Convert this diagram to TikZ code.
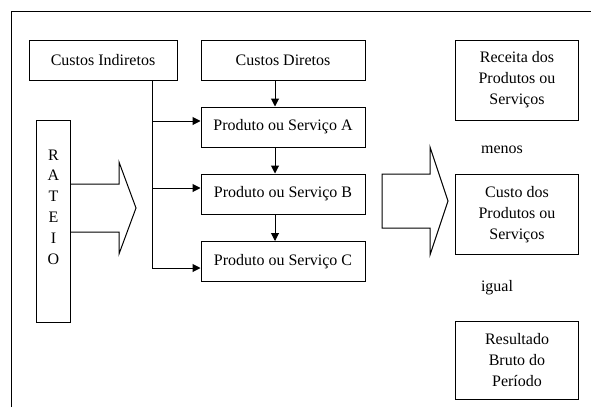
\documentclass[tikz,border=0pt]{standalone}
\usepackage{fontspec}
\setmainfont{Liberation Serif}
\usetikzlibrary{arrows.meta}

\begin{document}
\begin{tikzpicture}[x=0.75pt,y=-0.75pt,line width=0.75pt,
    caixa/.style={draw, inner sep=0pt, align=center,
      font=\fontsize{12}{15.75}\selectfont},
    texto/.style={inner sep=0pt, align=center,
      font=\fontsize{12}{15.6}\selectfont},
    seta/.style={-{Triangle[length=6pt,width=6pt]}}]
        \useasboundingbox (0,0) rectangle (591,407);

        % Moldura
        \draw (11,407) -- (11,11) -- (591,11);

        % Custos
        \node[caixa, minimum width=111pt, minimum height=30pt] (ci) at (103,60) {Custos Indiretos};
        \node[caixa, minimum width=123pt, minimum height=30pt] (cd) at (283,60) {Custos Diretos};

        % Produtos
        \node[caixa, minimum width=123pt, minimum height=30pt] (pa) at (283,127) {Produto ou Serviço A};
        \node[caixa, minimum width=123pt, minimum height=30pt] (pb) at (283,194) {Produto ou Serviço B};
        \node[caixa, minimum width=123pt, minimum height=30pt] (pc) at (283,261.5) {Produto ou Serviço C};

        % Rateio
        \node[caixa, minimum width=25pt, minimum height=151.5pt] (rateio) at (53.5,221) {};
        \node[texto] (letras) at (53.5,207) {R\\A\\T\\E\\I\\O};

        % Resultado
        \node[caixa, minimum width=92pt, minimum height=60pt] (receita) at (517,80) {Receita dos\\Produtos ou\\Serviços};
        \node[caixa, minimum width=92pt, minimum height=60pt] (custo) at (517,214.5) {Custo dos\\Produtos ou\\Serviços};
        \node[caixa, minimum width=92pt, minimum height=58pt] (resultado) at (517,360.5) {Resultado\\Bruto do\\Período};
        \node[texto] (menos) at (502,150) {menos};
        \node[texto] (igual) at (497,288) {igual};

        % Setas
        \coordinate (tronco) at (152,268);
        \draw (ci.south -| tronco) -- (tronco);
        \draw[seta] (tronco) -- (tronco -| pc.west);
        \draw[seta] ([yshift=4.5pt]pa.west -| tronco) -- ([yshift=4.5pt]pa.west);
        \draw[seta] ([yshift=4.5pt]pb.west -| tronco) -- ([yshift=4.5pt]pb.west);
        \draw[seta] ([xshift=-6pt]cd.south) -- ([xshift=-6pt]pa.north);
        \draw[seta] ([xshift=-6pt]pa.south) -- ([xshift=-6pt]pb.north);
        \draw[seta] ([xshift=-6pt]pb.south) -- ([xshift=-6pt]pc.north);

        % Setas largas
        \draw (70,184) -- (119,184) -- (119,162) -- (136,208) -- (119,254) -- (119,232) -- (70,232);
        \draw (382,174) -- (430,174) -- (430,147) -- (448,201) -- (430,255) -- (430,228) -- (382,228) -- cycle;
    \end{tikzpicture}
\end{document}
